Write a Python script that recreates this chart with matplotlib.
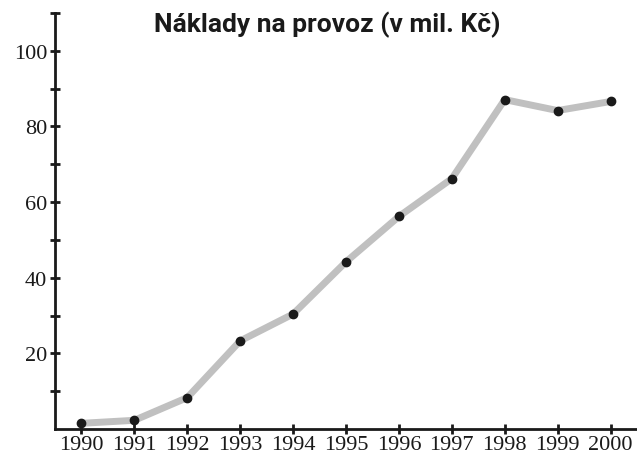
import numpy as np
import matplotlib.pyplot as plt

roky = [1990, 1991, 1992, 1993, 1994, 1995, 1996, 1997, 1998, 1999, 2000]
naklady = [1.5, 2.3, 8.3, 23.3, 30.4, 44.2, 56.2, 66.2, 87.1, 84.2, 86.6]

fig = plt.figure(figsize=(6.37, 4.56), dpi=100)
ax = fig.add_axes([55 / 637, 26 / 456, 582 / 637, 416 / 456])

ax.plot(roky, naklady, color='#c0c0c0', linewidth=5, solid_capstyle='butt', zorder=2)
ax.plot(roky, naklady, 'o', color='#1a1a1a', markersize=6, zorder=3)

ax.set_xlim(1989.5, 2000.5)
ax.set_ylim(0, 110)
ax.set_xticks(roky)
ax.set_yticks([20, 40, 60, 80, 100])
ax.set_yticks([10, 30, 50, 70, 90, 110], minor=True)

for s in ['top', 'right']:
    ax.spines[s].set_visible(False)
for s in ['left', 'bottom']:
    ax.spines[s].set_linewidth(2)
    ax.spines[s].set_color('#1a1a1a')

ax.tick_params(which='both', direction='inout', length=7, width=2, color='#1a1a1a')
ax.tick_params(axis='x', pad=1)
ax.tick_params(axis='y', pad=2)
for lab in ax.get_xticklabels() + ax.get_yticklabels():
    lab.set_family(['Liberation Serif', 'DejaVu Serif'])
    lab.set_fontsize(16)
    lab.set_color('#1a1a1a')

fig.text(0.513, 0.975, 'Náklady na provoz (v mil. Kč)', ha='center', va='top',
         fontsize=19, fontweight='bold', color='#1a1a1a',
         family=['Roboto', 'DejaVu Sans'])

fig.savefig('out.png', dpi=100)
